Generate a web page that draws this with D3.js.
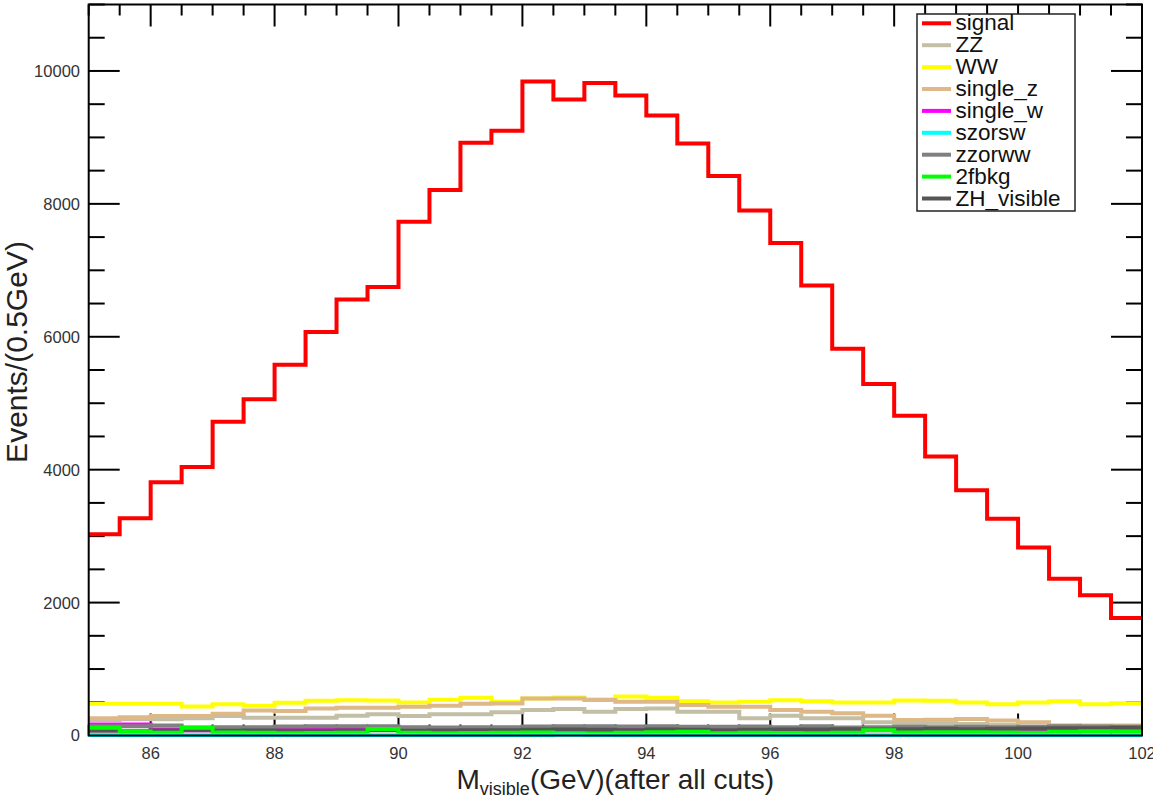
<!DOCTYPE html>
<html><head><meta charset="utf-8">
<script src="https://cdn.jsdelivr.net/npm/d3@7"></script>
<style>body{margin:0;background:#fff}svg{display:block}</style>
</head><body>
<script>
// bin edges: 85..102 in 0.5 GeV steps (34 bins)
const binStart = 85, binWidth = 0.5;
const signal   = [3030,3270,3810,4040,4720,5060,5580,6070,6560,6750,7730,8210,8920,9100,9840,9570,9820,9630,9330,8910,8420,7900,7410,6770,5820,5290,4810,4200,3690,3260,2830,2360,2110,1770];
const ZZ       = [233,243,243,258,292,268,268,268,298,318,292,318,318,348,383,398,358,398,408,358,358,258,298,258,258,198,183,183,173,158,133,145,150,150];
const WW       = [477,477,477,437,472,447,492,522,532,527,497,537,567,507,555,570,545,585,567,517,497,507,532,517,497,497,527,522,497,472,497,517,472,487];
const single_z = [258,273,292,292,328,378,368,408,418,418,433,448,478,483,558,558,533,508,508,458,433,433,383,358,333,298,233,238,250,225,200,150,140,140];
const single_w = [165,165,90,80,85,90,108,108,108,90,85,95,108,108,90,85,80,85,80,85,75,80,85,80,75,80,85,80,75,80,85,80,75,80];
const szorsw   = [8,5,5,5,5,5,5,5,5,5,5,5,5,5,5,10,8,5,5,5,5,5,5,5,5,5,5,5,5,5,5,5,5,5];
const zzorww   = [140,140,150,120,125,125,135,140,140,140,125,120,125,125,135,140,140,135,140,130,130,135,125,140,120,125,130,125,130,125,130,140,135,130];
const fbkg     = [118,60,40,118,45,40,35,38,40,98,40,35,38,40,45,35,30,40,50,55,35,40,38,35,40,80,45,50,48,45,40,55,65,60];
const ZH_visible = [70,65,75,80,70,75,70,72,75,80,72,75,78,80,85,90,85,80,90,85,80,88,90,92,95,90,95,100,95,100,105,110,110,115];

const legendNames = ["signal","ZZ","WW","single_z","single_w","szorsw","zzorww","2fbkg","ZH_visible"];
const legendColors = ["#ff0000","#c3bfa6","#ffff00","#deb887","#ff00ff","#00ffff","#808080","#00ff00","#555555"];
const seriesData = [signal, ZZ, WW, single_z, single_w, szorsw, zzorww, fbkg, ZH_visible];
const drawOrder = [0,1,2,3,4,6,8,7,5];

const xMajor = [86,88,90,92,94,96,98,100,102];
const yMajor = [0,2000,4000,6000,8000,10000];

const W = 1153, H = 801;
const x = d3.scaleLinear().domain([85,102]).range([88.7,1142]);
const y = d3.scaleLinear().domain([0,11000]).range([735.5,4.5]);

const svg = d3.select("body").append("svg").attr("width",W).attr("height",H);
const FONT = "Liberation Sans, Arial, sans-serif";
const x0 = x.range()[0], x1 = x.range()[1], y0 = y.range()[0], y1 = y.range()[1];

// axes ticks (drawn below histograms)
const g = svg.append("g").attr("stroke","#000").attr("stroke-width",2);
const xMinor = d3.range(85, 102.01, 0.5);
xMinor.forEach(v=>{
  const isMaj = xMajor.includes(v);
  const L = isMaj ? 22 : 11;
  g.append("line").attr("x1",x(v)).attr("x2",x(v)).attr("y1",y0).attr("y2",y0-L);
  g.append("line").attr("x1",x(v)).attr("x2",x(v)).attr("y1",y1).attr("y2",y1+L);
});
const yMinor = d3.range(0, 11000.1, 500);
yMinor.forEach(v=>{
  const isMaj = yMajor.includes(v);
  const L = isMaj ? 31 : 16;
  g.append("line").attr("x1",x0).attr("x2",x0+L).attr("y1",y(v)).attr("y2",y(v));
  g.append("line").attr("x1",x1).attr("x2",x1-L).attr("y1",y(v)).attr("y2",y(v));
});

// histograms
const line = d3.line().x(d=>x(d[0])).y(d=>y(d[1])).curve(d3.curveStepAfter);
function pts(vals){
  const p = vals.map((v,i)=>[binStart+i*binWidth, v]);
  p.push([binStart+vals.length*binWidth, vals[vals.length-1]]);
  return p;
}
drawOrder.forEach(k=>{
  svg.append("path").attr("d", line(pts(seriesData[k])))
    .attr("fill","none").attr("stroke",legendColors[k])
    .attr("stroke-width",4).attr("stroke-linejoin","miter").attr("stroke-linecap","butt");
});

svg.append("rect").attr("x",x0).attr("y",y1).attr("width",x1-x0).attr("height",y0-y1)
  .attr("fill","none").attr("stroke","#000").attr("stroke-width",2);

// tick labels
svg.selectAll("text.yl").data(yMajor).enter().append("text")
  .attr("x",80).attr("y",d=>y(d)).attr("dy","0.36em").attr("text-anchor","end")
  .attr("font-family",FONT).attr("font-size",16.5).attr("fill","#333")
  .text(d=>d);
svg.selectAll("text.xl").data(xMajor).enter().append("text")
  .attr("x",d=>x(d)).attr("y",759).attr("text-anchor","middle")
  .attr("font-family",FONT).attr("font-size",16.5).attr("fill","#333")
  .text(d=>d);

// axis titles
const xt = svg.append("text").attr("x",(x0+x1)/2).attr("y",789).attr("text-anchor","middle")
  .attr("font-family",FONT).attr("font-size",28).attr("fill","#222");
xt.append("tspan").text("M");
xt.append("tspan").attr("font-size",18).attr("dy",6).text("visible");
xt.append("tspan").attr("dy",-6).text("(GeV)(after all cuts)");

svg.append("text").attr("transform","translate(27,352) rotate(-90)").attr("text-anchor","middle")
  .attr("font-family",FONT).attr("font-size",30).attr("fill","#222")
  .text("Events/(0.5GeV)");

// legend
const lg = svg.append("g");
lg.append("rect").attr("x",917).attr("y",14).attr("width",158).attr("height",197)
  .attr("fill","#fff").attr("stroke","#222").attr("stroke-width",1.5);
legendNames.forEach((n,i)=>{
  const yy = 23.3 + i*21.9;
  lg.append("line").attr("x1",922).attr("x2",951).attr("y1",yy).attr("y2",yy)
    .attr("stroke",legendColors[i]).attr("stroke-width",4);
  lg.append("text").attr("x",955.5).attr("y",yy+7).attr("font-family",FONT)
    .attr("font-size",22.5).attr("fill","#111").text(n);
});
</script>
</body></html>
